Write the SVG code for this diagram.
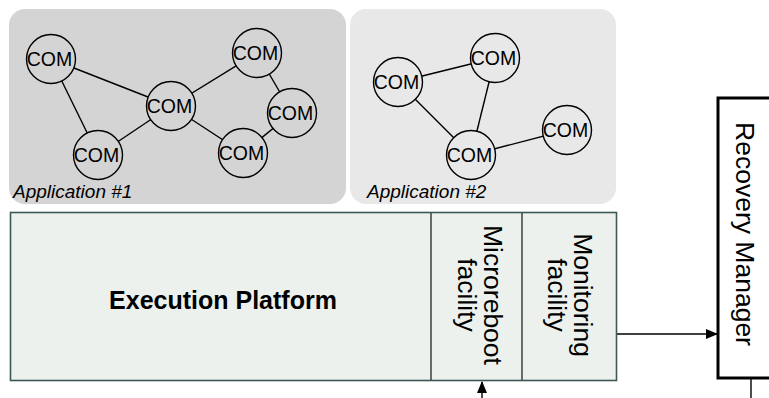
<svg xmlns="http://www.w3.org/2000/svg" width="769" height="398" viewBox="0 0 769 398">
  <defs>
    <style>
      .panel1 { fill: #d4d4d4; }
      .panel2 { fill: #e8e8e8; }
      .com1 { fill: #d4d4d4; stroke: #000; stroke-width: 1.4; }
      .com2 { fill: #e8e8e8; stroke: #000; stroke-width: 1.4; }
      .comtxt { font-family: "Liberation Sans", Arial, sans-serif; font-size: 19.5px; text-anchor: middle; fill: #000; }
      .edge { stroke: #000; stroke-width: 1.4; fill: none; }
      .applbl { font-family: "Liberation Sans", Arial, sans-serif; font-size: 19px; font-style: italic; fill: #000; }
      .vtxt { font-family: "Liberation Sans", Arial, sans-serif; font-size: 26.5px; text-anchor: middle; fill: #000; }
      .flow { stroke: #000; stroke-width: 1.4; fill: none; }
    </style>
    <marker id="arrow" markerWidth="12" markerHeight="10" refX="11" refY="5" orient="auto" markerUnits="userSpaceOnUse">
      <path d="M0,0 L12,5 L0,10 Z" fill="#000"/>
    </marker>
  </defs>

  <!-- application panels -->
  <g id="application-1">
    <rect class="panel1" x="9" y="9" width="337" height="195" rx="16"/>
    <text class="applbl" x="13" y="198">Application #1</text>
  </g>
  <g id="application-2">
    <rect class="panel2" x="350" y="9" width="266" height="195" rx="16"/>
    <text class="applbl" x="367" y="198">Application #2</text>
  </g>

  <!-- component links -->
  <g id="connectors">
    <line class="edge" x1="51" y1="59" x2="171" y2="106"/>
    <line class="edge" x1="51" y1="59" x2="98" y2="155"/>
    <line class="edge" x1="98" y1="155" x2="171" y2="106"/>
    <line class="edge" x1="171" y1="106" x2="257" y2="53"/>
    <line class="edge" x1="171" y1="106" x2="243" y2="153"/>
    <line class="edge" x1="257" y1="53" x2="292" y2="113"/>
    <line class="edge" x1="292" y1="113" x2="243" y2="153"/>
    <line class="edge" x1="398" y1="82" x2="495" y2="58"/>
    <line class="edge" x1="398" y1="82" x2="471" y2="155"/>
    <line class="edge" x1="495" y1="58" x2="471" y2="155"/>
    <line class="edge" x1="471" y1="155" x2="567" y2="130"/>
    <line class="flow" x1="617" y1="334" x2="717" y2="334" marker-end="url(#arrow)"/>
    <line class="flow" x1="482" y1="398" x2="482" y2="382" marker-end="url(#arrow)"/>
    <line class="flow" x1="751" y1="378" x2="751" y2="398"/>
  </g>

  <!-- components of application 1 -->
  <g id="com-a1">
    <circle class="com1" cx="51" cy="59" r="24.5"/>
    <text class="comtxt" x="49.5" y="66">COM</text>
  </g>
  <g id="com-a2">
    <circle class="com1" cx="171" cy="106" r="24.5"/>
    <text class="comtxt" x="169.5" y="113">COM</text>
  </g>
  <g id="com-a3">
    <circle class="com1" cx="98" cy="155" r="24.5"/>
    <text class="comtxt" x="96.5" y="162">COM</text>
  </g>
  <g id="com-a4">
    <circle class="com1" cx="257" cy="53" r="24.5"/>
    <text class="comtxt" x="255.5" y="60">COM</text>
  </g>
  <g id="com-a5">
    <circle class="com1" cx="292" cy="113" r="24.5"/>
    <text class="comtxt" x="290.5" y="120">COM</text>
  </g>
  <g id="com-a6">
    <circle class="com1" cx="243" cy="153" r="24.5"/>
    <text class="comtxt" x="241.5" y="160">COM</text>
  </g>

  <!-- components of application 2 -->
  <g id="com-b1">
    <circle class="com2" cx="398" cy="82" r="24.5"/>
    <text class="comtxt" x="396.5" y="89">COM</text>
  </g>
  <g id="com-b2">
    <circle class="com2" cx="495" cy="58" r="24.5"/>
    <text class="comtxt" x="493.5" y="65">COM</text>
  </g>
  <g id="com-b3">
    <circle class="com2" cx="471" cy="155" r="24.5"/>
    <text class="comtxt" x="469.5" y="162">COM</text>
  </g>
  <g id="com-b4">
    <circle class="com2" cx="567" cy="130" r="24.5"/>
    <text class="comtxt" x="565.5" y="137">COM</text>
  </g>

  <!-- execution platform with its two facilities -->
  <g id="execution-platform">
    <rect x="10.5" y="212.5" width="606" height="168" fill="#ecf1ee" stroke="#3d5957" stroke-width="1.6"/>
    <text x="223" y="309" font-family="Liberation Sans, Arial, sans-serif" font-size="25px" font-weight="bold" text-anchor="middle">Execution Platform</text>
  </g>
  <g id="microreboot-facility">
    <line x1="431" y1="213" x2="431" y2="380" stroke="#333" stroke-width="1.4"/>
    <text class="vtxt" transform="translate(484,295) rotate(90)">Microreboot</text>
    <text class="vtxt" transform="translate(458,295) rotate(90)">facility</text>
  </g>
  <g id="monitoring-facility">
    <line x1="522" y1="213" x2="522" y2="380" stroke="#333" stroke-width="1.4"/>
    <text class="vtxt" transform="translate(574,295) rotate(90)">Monitoring</text>
    <text class="vtxt" transform="translate(548,295) rotate(90)">facility</text>
  </g>

  <!-- recovery manager -->
  <g id="recovery-manager">
    <rect x="718" y="98" width="60" height="280" fill="#fff" stroke="#000" stroke-width="3"/>
    <text class="vtxt" transform="translate(736,234) rotate(90)">Recovery Manager</text>
  </g>
</svg>
